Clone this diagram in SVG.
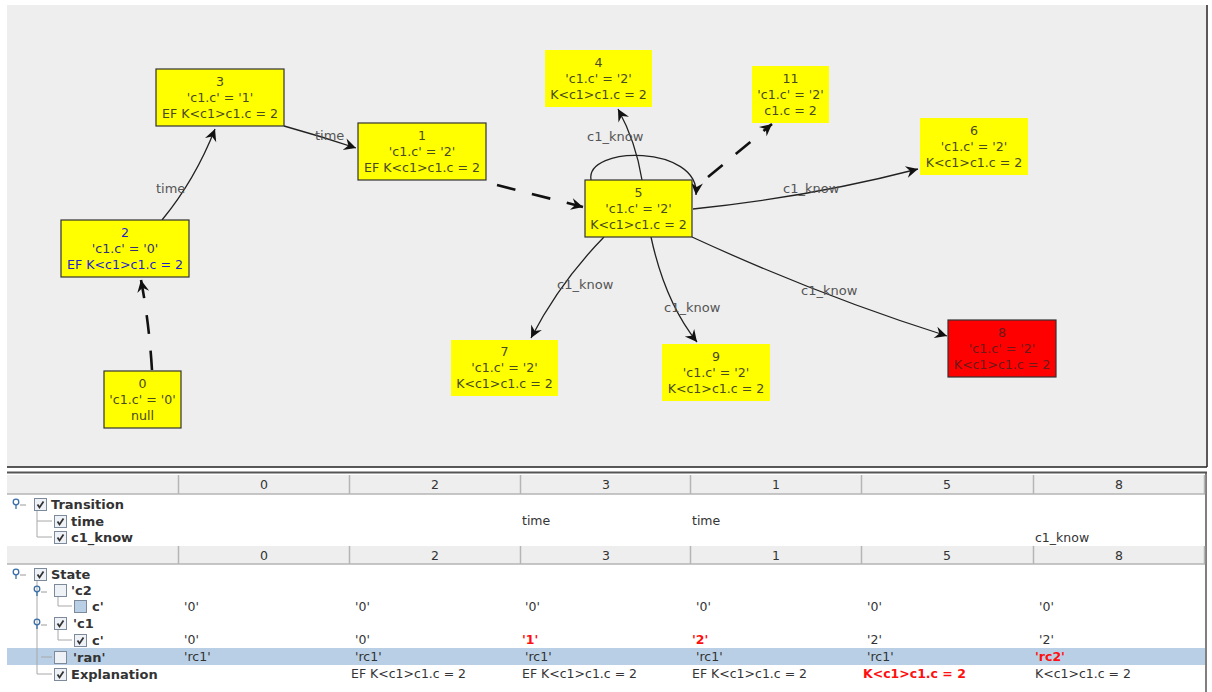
<svg xmlns="http://www.w3.org/2000/svg" width="1212" height="692" viewBox="0 0 1212 692">
  <style>
    .node-txt { font-family: "DejaVu Sans", sans-serif; font-size: 12.6px; fill: #4a4a20; text-anchor: middle; }
    .node-txt-red { font-family: "DejaVu Sans", sans-serif; font-size: 12.6px; fill: #6b1a1a; text-anchor: middle; }
    .node-txt-blue { font-family: "DejaVu Sans", sans-serif; font-size: 12.6px; fill: #1f1fd0; text-anchor: middle; }
    .box-b { fill: #ffff00; stroke: #333; stroke-width: 1.2; }
    .box { fill: #ffff00; }
    .box-red { fill: #ff0000; stroke: #333; stroke-width: 1.2; }
    .edge { fill: none; stroke: #222; stroke-width: 1.3; marker-end: url(#arr); }
    .dash { fill: none; stroke: #111; stroke-width: 2.6; stroke-dasharray: 19 17; marker-end: url(#arr); }
    .elbl { font-family: "DejaVu Sans", sans-serif; font-size: 13px; fill: #555; }
    .hdr { fill: #eeeeee; stroke: none; }
    .hsep { stroke: #b5b5b5; stroke-width: 1.5; }
    .htxt { font-family: "DejaVu Sans", sans-serif; font-size: 12.5px; fill: #333; text-anchor: middle; }
    .tree { font-family: "DejaVu Sans", sans-serif; font-size: 13px; font-weight: bold; fill: #333; }
    .cell { font-family: "DejaVu Sans", sans-serif; font-size: 12.5px; fill: #333; }
    .cell-red { font-family: "DejaVu Sans", sans-serif; font-size: 12.5px; font-weight: bold; fill: #ff1010; }
    .cb { fill: #eef2f7; stroke: #7c8a99; stroke-width: 1; }
    .cb-part { fill: #b8cfe5; stroke: #7c8a99; stroke-width: 1; }
    .tick { fill: none; stroke: #333; stroke-width: 1.8; }
    .tline { stroke: #a8a8a8; stroke-width: 1; fill: none; }
    .knob { fill: none; stroke: #3a6ea8; stroke-width: 1.3; }
  </style>
  <defs>
    <marker id="arr" viewBox="-13 -7 15 14" refX="0" refY="0" markerWidth="15" markerHeight="14" markerUnits="userSpaceOnUse" orient="auto">
      <path d="M0,0 L-12,-6 L-8,0 L-12,6 Z" fill="#111"/>
    </marker>
  </defs>

  <!-- graph canvas -->
  <rect x="0" y="0" width="1212" height="692" fill="#ffffff"/>
  <rect x="7" y="5" width="1199" height="462" fill="#eeeeee"/>
  <line x1="7" y1="467" x2="1207" y2="467" stroke="#222" stroke-width="1.5"/>
  <line x1="1207" y1="5" x2="1207" y2="467" stroke="#222" stroke-width="1.5"/>

  <!-- transitions -->
  <g id="connectors">
    <path class="dash" d="M152,370 Q149,322 141,280"/>
    <path class="edge" d="M162,220 Q195,180 215,129"/>
    <path class="edge" d="M284,126 Q320,136 356,148"/>
    <path class="dash" d="M497,185 L583,207"/>
    <path class="edge" d="M642,180 Q636,142 618,109"/>
    <path class="edge" d="M591,180 C585,145 700,145 696,195"/>
    <path class="dash" d="M708,177 L772,124"/>
    <path class="edge" d="M693,209 Q810,197 918,169"/>
    <path class="edge" d="M604,237 Q560,282 531,338"/>
    <path class="edge" d="M651,237 Q665,302 697,342"/>
    <path class="edge" d="M692,237 Q820,296 947,336"/>
    <text class="elbl" x="156" y="193">time</text>
    <text class="elbl" x="315" y="140">time</text>
    <text class="elbl" x="587" y="141">c1_know</text>
    <text class="elbl" x="783" y="193">c1_know</text>
    <text class="elbl" x="557" y="289">c1_know</text>
    <text class="elbl" x="664" y="312">c1_know</text>
    <text class="elbl" x="801" y="295">c1_know</text>
  </g>

  <!-- states -->
  <g id="node0">
    <rect class="box-b" x="104" y="371" width="77" height="57"/>
    <text class="node-txt" x="142.5" y="388">0</text>
    <text class="node-txt" x="142.5" y="404">'c1.c' = '0'</text>
    <text class="node-txt" x="142.5" y="420">null</text>
  </g>
  <g id="node2">
    <rect class="box-b" x="61" y="220" width="128" height="57"/>
    <text class="node-txt-blue" x="125" y="237">2</text>
    <text class="node-txt-blue" x="125" y="253" style="fill:#30307a">'c1.c' = '0'</text>
    <text class="node-txt-blue" x="125" y="269">EF K&lt;c1&gt;c1.c = 2</text>
  </g>
  <g id="node3">
    <rect class="box-b" x="156" y="69" width="128" height="57"/>
    <text class="node-txt" x="220" y="86">3</text>
    <text class="node-txt" x="220" y="102">'c1.c' = '1'</text>
    <text class="node-txt" x="220" y="118">EF K&lt;c1&gt;c1.c = 2</text>
  </g>
  <g id="node1">
    <rect class="box-b" x="358" y="123" width="128" height="57"/>
    <text class="node-txt" x="422" y="140">1</text>
    <text class="node-txt" x="422" y="156">'c1.c' = '2'</text>
    <text class="node-txt" x="422" y="172">EF K&lt;c1&gt;c1.c = 2</text>
  </g>
  <g id="node5">
    <rect class="box-b" x="585" y="180" width="107" height="57"/>
    <text class="node-txt" x="638.5" y="197">5</text>
    <text class="node-txt" x="638.5" y="213">'c1.c' = '2'</text>
    <text class="node-txt" x="638.5" y="229">K&lt;c1&gt;c1.c = 2</text>
  </g>
  <g id="node4">
    <rect class="box" x="545" y="50" width="107" height="57"/>
    <text class="node-txt" x="598.5" y="67">4</text>
    <text class="node-txt" x="598.5" y="83">'c1.c' = '2'</text>
    <text class="node-txt" x="598.5" y="99">K&lt;c1&gt;c1.c = 2</text>
  </g>
  <g id="node11">
    <rect class="box" x="752" y="66" width="77" height="57"/>
    <text class="node-txt" x="790.5" y="83">11</text>
    <text class="node-txt" x="790.5" y="99">'c1.c' = '2'</text>
    <text class="node-txt" x="790.5" y="115">c1.c = 2</text>
  </g>
  <g id="node6">
    <rect class="box" x="920" y="118" width="108" height="57"/>
    <text class="node-txt" x="974" y="135">6</text>
    <text class="node-txt" x="974" y="151">'c1.c' = '2'</text>
    <text class="node-txt" x="974" y="167">K&lt;c1&gt;c1.c = 2</text>
  </g>
  <g id="node7">
    <rect class="box" x="451" y="340" width="107" height="56"/>
    <text class="node-txt" x="504.5" y="356">7</text>
    <text class="node-txt" x="504.5" y="372">'c1.c' = '2'</text>
    <text class="node-txt" x="504.5" y="388">K&lt;c1&gt;c1.c = 2</text>
  </g>
  <g id="node9">
    <rect class="box" x="662" y="344" width="108" height="57"/>
    <text class="node-txt" x="716" y="361">9</text>
    <text class="node-txt" x="716" y="377">'c1.c' = '2'</text>
    <text class="node-txt" x="716" y="393">K&lt;c1&gt;c1.c = 2</text>
  </g>
  <g id="node8">
    <rect class="box-red" x="948" y="320" width="108" height="57"/>
    <text class="node-txt-red" x="1002" y="337">8</text>
    <text class="node-txt-red" x="1002" y="353">'c1.c' = '2'</text>
    <text class="node-txt-red" x="1002" y="369">K&lt;c1&gt;c1.c = 2</text>
  </g>

  <!-- trace table -->
  <g id="trace-table">
    <rect x="7" y="472" width="1200" height="220" fill="#ffffff"/>
    <line x1="7" y1="472.5" x2="1207" y2="472.5" stroke="#555" stroke-width="2"/>
    <line x1="1206" y1="472" x2="1206" y2="692" stroke="#555" stroke-width="1.5"/>

    <!-- header rows -->
    <rect class="hdr" x="7" y="475" width="1198" height="19"/>
    <rect class="hdr" x="7" y="546" width="1198" height="18"/>
    <g class="hsep">
      <line x1="7" y1="494" x2="1205" y2="494"/>
      <line x1="7" y1="564" x2="1205" y2="564"/>
      <line x1="178.5" y1="475" x2="178.5" y2="494"/>
      <line x1="349.5" y1="475" x2="349.5" y2="494"/>
      <line x1="520.5" y1="475" x2="520.5" y2="494"/>
      <line x1="690.5" y1="475" x2="690.5" y2="494"/>
      <line x1="861.5" y1="475" x2="861.5" y2="494"/>
      <line x1="1033.5" y1="475" x2="1033.5" y2="494"/>
      <line x1="1204.5" y1="475" x2="1204.5" y2="494"/>
      <line x1="178.5" y1="546" x2="178.5" y2="564"/>
      <line x1="349.5" y1="546" x2="349.5" y2="564"/>
      <line x1="520.5" y1="546" x2="520.5" y2="564"/>
      <line x1="690.5" y1="546" x2="690.5" y2="564"/>
      <line x1="861.5" y1="546" x2="861.5" y2="564"/>
      <line x1="1033.5" y1="546" x2="1033.5" y2="564"/>
      <line x1="1204.5" y1="546" x2="1204.5" y2="564"/>
    </g>
    <text class="htxt" x="264" y="489">0</text>
    <text class="htxt" x="435" y="489">2</text>
    <text class="htxt" x="606" y="489">3</text>
    <text class="htxt" x="776" y="489">1</text>
    <text class="htxt" x="947" y="489">5</text>
    <text class="htxt" x="1119" y="489">8</text>
    <text class="htxt" x="264" y="560">0</text>
    <text class="htxt" x="435" y="560">2</text>
    <text class="htxt" x="606" y="560">3</text>
    <text class="htxt" x="776" y="560">1</text>
    <text class="htxt" x="947" y="560">5</text>
    <text class="htxt" x="1119" y="560">8</text>

    <!-- selected row -->
    <rect x="7" y="648" width="1198" height="17" fill="#b8cfe5"/>

    <!-- tree guide lines -->
    <path class="tline" d="M37,510 V537 H52 M37,521 H52"/>
    <path class="tline" d="M37,580 V674 H52 M58,596 V606 H72 M58,629 V640 H72 M41,657 H52"/>

    <!-- expand knobs -->
    <g class="knob">
      <circle cx="16" cy="502" r="2.8"/><path d="M16,505 V509"/>
      <circle cx="16" cy="572" r="2.8"/><path d="M16,575 V579"/>
      <circle cx="37" cy="589" r="2.8"/><path d="M37,592 V596"/>
      <circle cx="37" cy="622" r="2.8"/><path d="M37,625 V629"/>
    </g>
    <path d="M20,505 H26 M20,575 H26 M41,592 H47 M41,625 H47" stroke="#9a9a9a" stroke-width="1"/>

    <!-- check boxes -->
    <rect class="cb" x="34.5" y="498.5" width="12" height="12"/>
    <path class="tick" d="M37.5,504.5 L39.5,507.5 L43.5,501.5"/>
    <rect class="cb" x="54.5" y="515.5" width="12" height="12"/>
    <path class="tick" d="M57.5,521.5 L59.5,524.5 L63.5,518.5"/>
    <rect class="cb" x="54.5" y="531.5" width="12" height="12"/>
    <path class="tick" d="M57.5,537.5 L59.5,540.5 L63.5,534.5"/>
    <rect class="cb" x="34.5" y="568.5" width="12" height="12"/>
    <path class="tick" d="M37.5,574.5 L39.5,577.5 L43.5,571.5"/>
    <rect class="cb" x="54.5" y="584.5" width="12" height="12"/>
    <rect class="cb-part" x="74.5" y="600.5" width="12" height="12"/>
    <rect class="cb" x="54.5" y="617.5" width="12" height="12"/>
    <path class="tick" d="M57.5,623.5 L59.5,626.5 L63.5,620.5"/>
    <rect class="cb" x="74.5" y="634.5" width="12" height="12"/>
    <path class="tick" d="M77.5,640.5 L79.5,643.5 L83.5,637.5"/>
    <rect class="cb" x="54.5" y="651.5" width="12" height="12"/>
    <rect class="cb" x="54.5" y="668.5" width="12" height="12"/>
    <path class="tick" d="M57.5,674.5 L59.5,677.5 L63.5,671.5"/>

    <!-- tree labels -->
    <text class="tree" x="51" y="509">Transition</text>
    <text class="tree" x="71" y="526">time</text>
    <text class="tree" x="71" y="542">c1_know</text>
    <text class="tree" x="51" y="579">State</text>
    <text class="tree" x="71" y="595">'c2</text>
    <text class="tree" x="92" y="611">c'</text>
    <text class="tree" x="73" y="628">'c1</text>
    <text class="tree" x="92" y="645">c'</text>
    <text class="tree" x="73" y="662">'ran'</text>
    <text class="tree" x="71" y="679">Explanation</text>

    <!-- transition cells -->
    <text class="cell" x="522" y="525">time</text>
    <text class="cell" x="692" y="525">time</text>
    <text class="cell" x="1035" y="542">c1_know</text>

    <!-- c2.c cells -->
    <text class="cell" x="184" y="611">'0'</text>
    <text class="cell" x="355" y="611">'0'</text>
    <text class="cell" x="525" y="611">'0'</text>
    <text class="cell" x="696" y="611">'0'</text>
    <text class="cell" x="867" y="611">'0'</text>
    <text class="cell" x="1039" y="611">'0'</text>

    <!-- c1.c cells -->
    <text class="cell" x="184" y="644">'0'</text>
    <text class="cell" x="355" y="644">'0'</text>
    <text class="cell-red" x="522" y="644">'1'</text>
    <text class="cell-red" x="692" y="644">'2'</text>
    <text class="cell" x="867" y="644">'2'</text>
    <text class="cell" x="1039" y="644">'2'</text>

    <!-- ran cells -->
    <text class="cell" x="184" y="661">'rc1'</text>
    <text class="cell" x="355" y="661">'rc1'</text>
    <text class="cell" x="525" y="661">'rc1'</text>
    <text class="cell" x="696" y="661">'rc1'</text>
    <text class="cell" x="867" y="661">'rc1'</text>
    <text class="cell-red" x="1035" y="661">'rc2'</text>

    <!-- explanation cells -->
    <text class="cell" x="351" y="678">EF K&lt;c1&gt;c1.c = 2</text>
    <text class="cell" x="522" y="678">EF K&lt;c1&gt;c1.c = 2</text>
    <text class="cell" x="692" y="678">EF K&lt;c1&gt;c1.c = 2</text>
    <text class="cell-red" x="863" y="678">K&lt;c1&gt;c1.c = 2</text>
    <text class="cell" x="1035" y="678">K&lt;c1&gt;c1.c = 2</text>
  </g>
</svg>
